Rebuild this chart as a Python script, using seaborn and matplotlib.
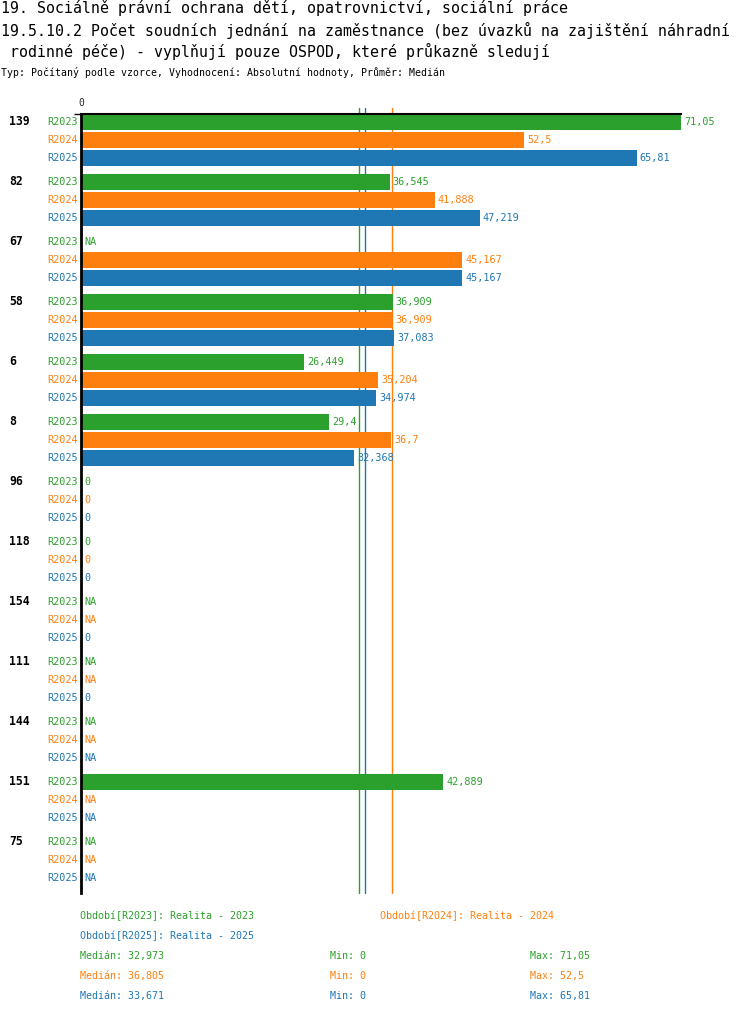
import numpy as np
import pandas as pd
import matplotlib
matplotlib.use("Agg")
import matplotlib.pyplot as plt
import seaborn as sns

# ---------------- data ----------------
groups = ["139", "82", "67", "58", "6", "8", "96", "118", "154", "111", "144", "151", "75"]
periods = ["R2023", "R2024", "R2025"]
r2023 = [71.05, 36.545, np.nan, 36.909, 26.449, 29.4, 0, 0, np.nan, np.nan, np.nan, 42.889, np.nan]
r2024 = [52.5, 41.888, 45.167, 36.909, 35.204, 36.7, 0, 0, np.nan, np.nan, np.nan, np.nan, np.nan]
r2025 = [65.81, 47.219, 45.167, 37.083, 34.974, 32.368, 0, 0, 0, 0, np.nan, np.nan, np.nan]
medians = [32.973, 36.805, 33.671]
mins = [0, 0, 0]
maxs = [71.05, 52.5, 65.81]
legend_names = ["Realita - 2023", "Realita - 2024", "Realita - 2025"]
colors = ["#2ca02c", "#ff7f0e", "#1f77b4"]

title_lines = [
    "19. Sociálně právní ochrana dětí, opatrovnictví, sociální práce",
    "19.5.10.2 Počet soudních jednání na zaměstnance (bez úvazků na zajištění náhradní",
    " rodinné péče) - vyplňují pouze OSPOD, které průkazně sledují",
]
subtitle = "Typ: Počítaný podle vzorce, Vyhodnocení: Absolutní hodnoty, Průměr: Medián"

series = [r2023, r2024, r2025]
rows = []
for p, vals in zip(periods, series):
    for g, v in zip(groups, vals):
        rows.append({"group": g, "period": p, "value": v})
df = pd.DataFrame(rows)


def fmt(v):
    s = f"{v:.3f}".rstrip("0").rstrip(".")
    return s.replace(".", ",")


# ---------------- figure ----------------
sns.set_theme(style="white")
plt.rcParams["font.family"] = ["DejaVu Sans Mono", "DejaVu Sans"]

W, H = 750, 1014
fig = plt.figure(figsize=(W / 100, H / 100), dpi=100)
ax_left, ax_right = 81, 681
ax_top, ax_bottom = 114, 893
ax = fig.add_axes([ax_left / W, 1 - ax_bottom / H, (ax_right - ax_left) / W, (ax_bottom - ax_top) / H])

palette = dict(zip(periods, colors))
sns.barplot(data=df.dropna(), y="group", x="value", hue="period", order=groups,
            hue_order=periods, palette=palette, orient="h", width=0.9, gap=0.13,
            errorbar=None, saturation=1, legend=False, linewidth=0, ax=ax)

top_y = -0.4333
ax.set_xlim(0, 71.05)
ax.set_ylim(len(groups) - 1 + 0.55, top_y)
ax.set_xlabel("")
ax.set_ylabel("")
ax.set_yticks([top_y])
ax.set_yticklabels([""])
ax.tick_params(axis="y", left=True, length=5, width=1, color="black")
ax.xaxis.tick_top()
ax.set_xticks([0])
ax.set_xticklabels(["0"], fontsize=7)
ax.tick_params(axis="x", length=0, pad=4)

for s in ["right", "bottom"]:
    ax.spines[s].set_visible(False)
ax.spines["left"].set_color("black")
ax.spines["left"].set_linewidth(2)
ax.spines["top"].set_color("black")
ax.spines["top"].set_linewidth(1.5)

# median lines
for m, c in zip(medians, colors):
    ax.axvline(m, ymin=0, ymax=1 + 6 / (ax_bottom - ax_top), color=c, lw=1, clip_on=False, zorder=0.5)

# labels
offsets = [-0.3, 0.0, 0.3]
for gi, g in enumerate(groups):
    ax.text(-72 / 600 * 71.05, gi + offsets[0], g, fontsize=8.3, fontweight="bold", color="black",
            ha="left", va="center")
    for pi, (vals, c) in enumerate(zip(series, colors)):
        y = gi + offsets[pi]
        ax.annotate(periods[pi], xy=(0, y), xytext=(-3, 0), textcoords="offset pixels",
                    ha="right", va="center", fontsize=7.3, color=c, annotation_clip=False)
        v = vals[gi]
        txt = "NA" if np.isnan(v) else fmt(v)
        xv = 0 if np.isnan(v) else v
        ax.annotate(txt, xy=(xv, y), xytext=(3, 0), textcoords="offset pixels",
                    ha="left", va="center", fontsize=7.3, color=c, annotation_clip=False)

# title
for i, line in enumerate(title_lines):
    fig.text(1 / W, 1 - [8, 30, 51][i] / H, line, fontsize=10.75, ha="left", va="center", color="black")
fig.text(1 / W, 1 - 73 / H, subtitle, fontsize=7.1, ha="left", va="center", color="black")

# legend
leg_pos = [(80, 916), (380, 916), (80, 936)]
for (x, y), p, n, c in zip(leg_pos, periods, legend_names, colors):
    fig.text(x / W, 1 - y / H, f"Období[{p}]: {n}", fontsize=7.2, color=c, ha="left", va="center")

for i, c in enumerate(colors):
    y = 1 - (956 + 20 * i) / H
    fig.text(80 / W, y, f"Medián: {fmt(medians[i])}", fontsize=7.2, color=c, ha="left", va="center")
    fig.text(330 / W, y, f"Min: {fmt(mins[i])}", fontsize=7.2, color=c, ha="left", va="center")
    fig.text(530 / W, y, f"Max: {fmt(maxs[i])}", fontsize=7.2, color=c, ha="left", va="center")

fig.savefig("out.png", dpi=100)
